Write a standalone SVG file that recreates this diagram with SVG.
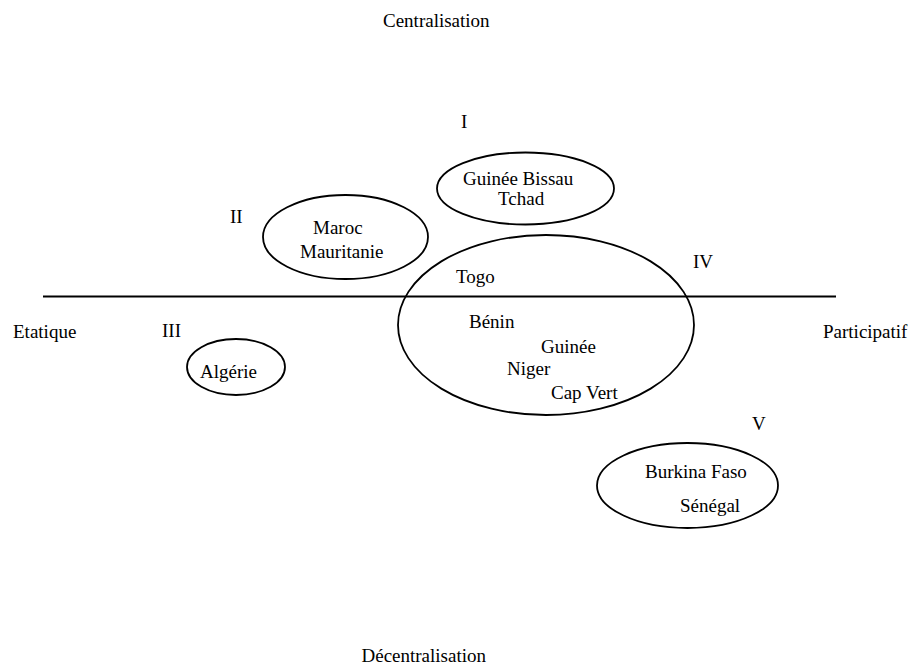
<svg xmlns="http://www.w3.org/2000/svg" width="917" height="669" viewBox="0 0 917 669" font-family="'Liberation Serif', 'DejaVu Serif', serif">
<style>
text{font-family:"Liberation Serif","Times New Roman","DejaVu Serif",serif;font-size:19px;fill:#000}
ellipse{fill:none;stroke:#000;stroke-width:1.8}
line{stroke:#000;stroke-width:2}
</style>
<rect width="917" height="669" fill="#fff"/>
<g id="axes">
<line x1="43" y1="296.5" x2="836" y2="296.5"/>
</g>
<g id="axis-labels">
<text x="383" y="27">Centralisation</text>
<text x="486" y="662" text-anchor="end">Décentralisation</text>
<text x="13" y="338">Etatique</text>
<text x="823" y="338">Participatif</text>
</g>
<g id="roman-labels">
<text x="461" y="128">I</text>
<text x="230" y="223">II</text>
<text x="162" y="337">III</text>
<text x="693" y="268">IV</text>
<text x="752" y="430">V</text>
</g>
<g id="group-I">
<ellipse cx="525.5" cy="188.5" rx="88.5" ry="36"/>
<text x="463" y="185">Guinée Bissau</text>
<text x="498" y="205">Tchad</text>
</g>
<g id="group-II">
<ellipse cx="345.5" cy="237" rx="82.5" ry="42"/>
<text x="313" y="234">Maroc</text>
<text x="300" y="258">Mauritanie</text>
</g>
<g id="group-III">
<ellipse cx="236" cy="367" rx="49" ry="28"/>
<text x="200" y="378">Algérie</text>
</g>
<g id="group-IV">
<ellipse cx="546" cy="325" rx="148" ry="90"/>
<text x="456" y="283">Togo</text>
<text x="469" y="328">Bénin</text>
<text x="541" y="353">Guinée</text>
<text x="507" y="375">Niger</text>
<text x="551" y="399">Cap Vert</text>
</g>
<g id="group-V">
<ellipse cx="687.5" cy="485.5" rx="90.5" ry="42.5"/>
<text x="645" y="478">Burkina Faso</text>
<text x="680" y="512">Sénégal</text>
</g>
</svg>
